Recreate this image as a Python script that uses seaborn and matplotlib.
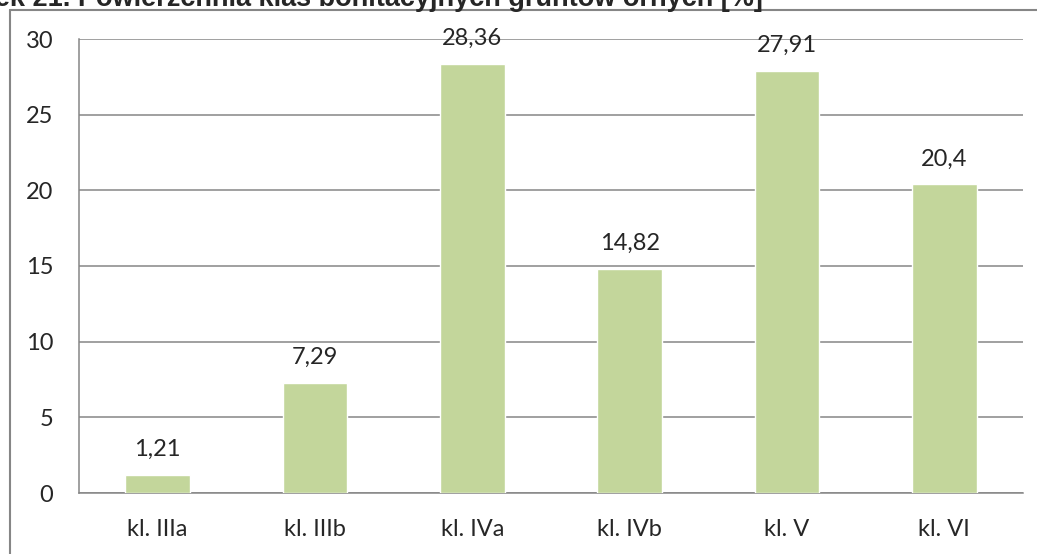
import matplotlib
matplotlib.use("Agg")
import matplotlib.pyplot as plt
import seaborn as sns
import pandas as pd
import numpy as np
from matplotlib.lines import Line2D

# Dane z wykresu
klasy = ["kl. IIIa", "kl. IIIb", "kl. IVa", "kl. IVb", "kl. V", "kl. VI"]
udzial = [1.21, 7.29, 28.36, 14.82, 27.91, 20.4]
etykiety = ["1,21", "7,29", "28,36", "14,82", "27,91", "20,4"]
tytul = "Rysunek 21. Powierzchnia klas bonitacyjnych gruntów ornych [%]"

df = pd.DataFrame({"klasa": klasy, "udzial": udzial})

sns.set_style("white")
plt.rcParams['font.family'] = ['Lato', 'DejaVu Sans']

W, H = 1037, 554
fig = plt.figure(figsize=(W / 100, H / 100), dpi=100)
ax = fig.add_axes([79 / W, 1 - 493 / H, (1023 - 79) / W, (493 - 39) / H])

szary = "#868686"
sns.barplot(data=df, x="klasa", y="udzial", color="#C3D69B", width=0.41,
            saturation=1, ax=ax, zorder=3)

for i, (v, t) in enumerate(zip(udzial, etykiety)):
    ax.annotate(t, (i, v), xytext=(0, 18), textcoords="offset points",
                ha="center", va="center", fontsize=17, zorder=4)

ax.set_xlim(-0.5, 5.5)
ax.set_ylim(0, 30)
ax.set_yticks(np.arange(0, 31, 5))
ax.yaxis.grid(True, color=szary, linewidth=1.1, zorder=0)
ax.set_axisbelow(True)
ax.set_xlabel("")
ax.set_ylabel("")

for s in ["top", "right"]:
    ax.spines[s].set_visible(False)
for s in ["left", "bottom"]:
    ax.spines[s].set_color(szary)
    ax.spines[s].set_linewidth(1.1)

ax.set_xticks(np.arange(-0.5, 6, 1), minor=True)
ax.tick_params(axis="x", which="major", length=0, pad=19, labelsize=17)
ax.tick_params(axis="x", which="minor", length=6.5, width=1.1, color=szary, direction="out")
ax.tick_params(axis="y", length=6.5, width=1.1, color=szary, pad=12, labelsize=17)

# Ramka wykresu (ucieta)
fig.add_artist(Line2D([10 / W, 10 / W], [0, 1 - 10 / H], transform=fig.transFigure,
                      color=szary, linewidth=1.5))
fig.add_artist(Line2D([10 / W, 1], [1 - 10 / H, 1 - 10 / H], transform=fig.transFigure,
                      color=szary, linewidth=1.5))

fig.text(763 / W, 1 - 6 / H, tytul, ha="right", va="baseline", fontsize=19.5,
         fontweight="bold", family=["Liberation Sans", "DejaVu Sans"])

fig.savefig("out.png", dpi=100)
